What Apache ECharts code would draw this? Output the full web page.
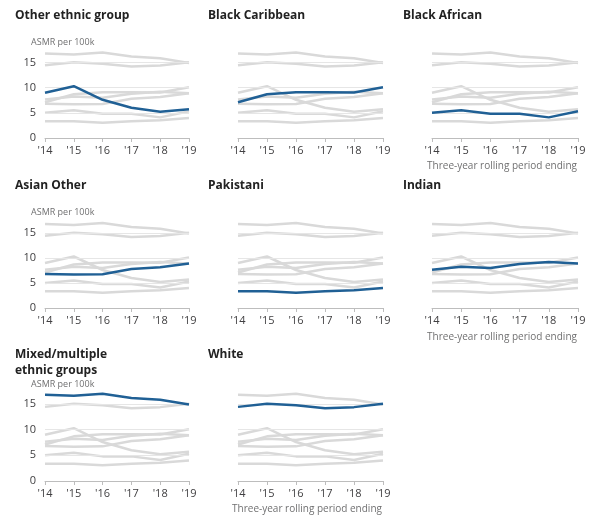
<!DOCTYPE html>
<html>
<head>
<meta charset="utf-8">
<script src="https://cdn.jsdelivr.net/npm/echarts@6/dist/echarts.min.js"></script>
<style>
  html, body { margin: 0; padding: 0; background: #fff; }
  #chart { width: 590px; height: 517px; }
</style>
</head>
<body>
<div id="chart"></div>
<script>
// Age-standardised mortality rate per 100,000, three-year rolling periods ending 2014-2019
const years = ["'14", "'15", "'16", "'17", "'18", "'19"];
const yTicks = [0, 5, 10, 15];

const otherEthnic    = [9.0, 10.3, 7.6, 6.0, 5.2, 5.7];
const blackCaribbean = [7.1, 8.7, 9.1, 9.1, 9.05, 10.1];
const blackAfrican   = [5.0, 5.5, 4.8, 4.8, 4.1, 5.3];
const asianOther     = [6.8, 6.7, 6.75, 7.8, 8.15, 8.9];
const pakistani      = [3.35, 3.35, 3.05, 3.35, 3.55, 4.0];
const indian         = [7.65, 8.25, 8.0, 8.8, 9.2, 8.9];
const mixedMultiple  = [16.8, 16.6, 17.0, 16.2, 15.85, 14.9];
const white          = [14.45, 15.05, 14.75, 14.2, 14.4, 15.05];

const groupNames = ['Other ethnic group', 'Black Caribbean', 'Black African', 'Asian Other',
                    'Pakistani', 'Indian', 'Mixed/multiple\nethnic groups', 'White'];
const groupValues = [otherEthnic, blackCaribbean, blackAfrican, asianOther,
                     pakistani, indian, mixedMultiple, white];

// panel geometry
const colLeft = [45, 238, 432];
const colWidth = [144, 145, 146];
const rowZero = [138, 308, 481];
const rowScale = [5.03, 5.0, 5.13];   // px per unit
const yMax = 17.5;

const BLUE = '#206095';
const GREY = '#d9d9d9';
const GRID = '#e6e6e6';
const FONT = '"Open Sans", sans-serif';

const grids = [], xAxes = [], yAxes = [], series = [], titles = [];

groupNames.forEach((name, i) => {
  const row = Math.floor(i / 3), col = i % 3;
  const h = yMax * rowScale[row];
  grids.push({ left: colLeft[col], width: colWidth[col], top: rowZero[row] - h, height: h });
  xAxes.push({
    gridIndex: i, type: 'category', data: years, boundaryGap: false,
    axisLine: { lineStyle: { color: '#bdbdbd', width: 1 } },
    axisTick: { show: true, length: 4, lineStyle: { color: '#bdbdbd' } },
    axisLabel: { color: '#414042', fontSize: 11, margin: 7, fontFamily: FONT }
  });
  yAxes.push({
    gridIndex: i, type: 'value', min: 0, max: yMax, interval: 5,
    axisLine: { show: false }, axisTick: { show: false }, splitLine: { show: false },
    axisLabel: {
      show: col === 0, color: '#414042', fontSize: 11, margin: 9, fontFamily: FONT,
      formatter: v => (yTicks.indexOf(v) >= 0 ? String(v) : '')
    }
  });

  // grey context lines for every group, highlighted group in blue on top
  groupValues.forEach((vals, j) => {
    const s = {
      type: 'line', xAxisIndex: i, yAxisIndex: i, data: vals,
      symbol: 'none', silent: true, clip: false,
      lineStyle: { color: j === i ? BLUE : GREY, width: j === i ? 2.5 : 2.5 },
      z: j === i ? 5 : 2
    };
    if (j === 0) {
      s.markLine = {
        silent: true, symbol: 'none', label: { show: false },
        lineStyle: { color: GRID, width: 1, type: 'solid' },
        data: yTicks.filter(t => t > 0).map(t => ({ yAxis: t }))
      };
    }
    series.push(s);
  });

  // panel heading
  const titleTop = [8, 178, 347][row];
  titles.push({
    text: name, left: [15, 208, 403][col], top: titleTop, padding: 0,
    textStyle: { fontFamily: FONT, fontSize: 12, fontWeight: 'bold', color: '#222', lineHeight: 16 }
  });
  if (col === 0) {
    titles.push({
      text: 'ASMR per 100k', left: 31, top: rowZero[row] - 15 * rowScale[row] - [25, 25, 24][row], padding: 0,
      textStyle: { fontFamily: FONT, fontSize: 9, fontWeight: 'normal', color: '#707071' }
    });
  }
});

// x-axis captions
[[502, 161], [502, 332], [307, 504]].forEach(([cx, top]) => {
  titles.push({
    text: 'Three-year rolling period ending', left: cx, top: top, textAlign: 'center', padding: 0,
    textStyle: { fontFamily: FONT, fontSize: 10, fontWeight: 'normal', color: '#707071' }
  });
});

const chart = echarts.init(document.getElementById('chart'), null, { renderer: 'canvas' });
chart.setOption({
  animation: false,
  title: titles,
  grid: grids,
  xAxis: xAxes,
  yAxis: yAxes,
  series: series
});
</script>
</body>
</html>
